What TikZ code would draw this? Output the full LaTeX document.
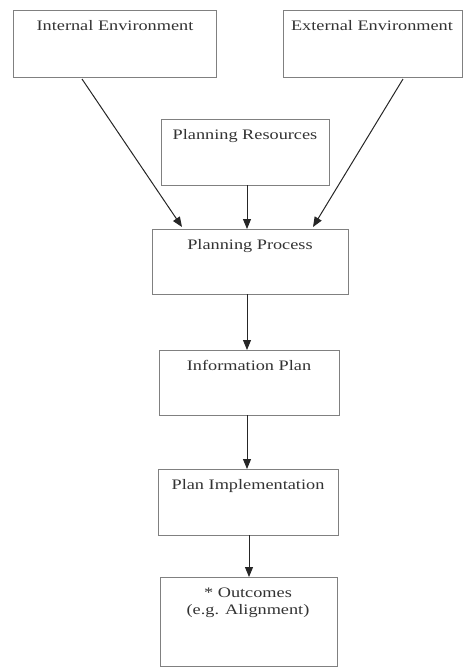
\documentclass[tikz,border=0pt]{standalone}
\usepackage{fontspec}
\setmainfont{Liberation Serif}
\usetikzlibrary{arrows.meta}
\begin{document}
\begin{tikzpicture}[x=1pt,y=-1pt,
  box/.style={draw=black!50, line width=0.9pt, fill=white},
  lbl/.style={anchor=north, text=black!80, font=\fontsize{14.5}{17}\selectfont, align=center, xscale=1.26},
  flow/.style={draw=black!85, line width=1pt, -{Triangle[length=10pt,width=8pt]}}]
  \useasboundingbox (0,0) rectangle (463,667);
  % boxes
  \draw[box] (13,10) rectangle (216,77);
  \draw[box] (283,10) rectangle (462,77);
  \draw[box] (161,119) rectangle (329,185);
  \draw[box] (152,229) rectangle (348,294);
  \draw[box] (159,350) rectangle (339,415);
  \draw[box] (158,469) rectangle (338,535);
  \draw[box] (160,577) rectangle (337,666);
  % labels
  \node[lbl] (ie) at (115,17) {Internal Environment};
  \node[lbl] (ee) at (372,17) {External Environment};
  \node[lbl] (pr) at (245,126) {Planning Resources};
  \node[lbl] (pp) at (250,236) {Planning Process};
  \node[lbl] (ip) at (249,357) {Information Plan};
  \node[lbl] (pi) at (248,476) {Plan Implementation};
  \node[lbl] (oc) at (248,584) {* Outcomes\\(e.g. Alignment)};
  % connector end points
  \coordinate (ieS) at (82,79);
  \coordinate (eeS) at (403,79);
  \coordinate (prS) at (247,185);
  \coordinate (ppL) at (182,227);
  \coordinate (ppM) at (247,229);
  \coordinate (ppR) at (313,227);
  \coordinate (ppS) at (247,294);
  \coordinate (ipN) at (247,350);
  \coordinate (ipS) at (247,415);
  \coordinate (piN) at (247,469);
  \coordinate (piS) at (249,535);
  \coordinate (ocN) at (249,577);
  % connectors
  \draw[flow] (ieS) -- (ppL);
  \draw[flow] (eeS) -- (ppR);
  \draw[flow] (prS) -- (ppM);
  \draw[flow] (ppS) -- (ipN);
  \draw[flow] (ipS) -- (piN);
  \draw[flow] (piS) -- (ocN);
\end{tikzpicture}
\end{document}
